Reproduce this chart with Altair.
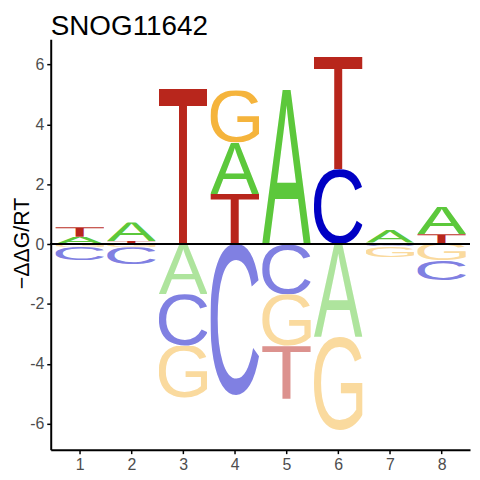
import base64
import glob
import struct

import altair as alt
import pandas as pd

# ---- data (signed -ddG/RT per position and base) ----
positions = [1, 2, 3, 4, 5, 6, 7, 8]
A = [0.24, 0.62, -1.68, 1.72, 5.16, -3.10, 0.44, 0.92]
C = [-0.44, -0.58, -1.73, -5.06, -1.68, 2.50, -0.08, -0.66]
G = [-0.10, -0.11, -1.74, 1.74, -1.73, -3.13, -0.35, -0.55]
T = [0.32, 0.10, 5.18, 1.67, -1.76, 3.76, 0.05, 0.33]
y_ticks = [-6, -4, -2, 0, 2, 4, 6]
title_text = ["SNOG11642"]

# ---- style ----
FONT = "Liberation Sans"
COLORS = {"A": "#5CC83B", "C": "#0000C4", "G": "#F5B43C", "T": "#B8261C"}
NEG_OPACITY = 0.5
HALF_W = 0.47

# glyph ink boxes (fraction of em); defaults ~ Arial, refined from the font file
BBOX = {
    "A": (-0.0015, 0.0, 0.6685, 0.716),
    "C": (0.0396, -0.0122, 0.6738, 0.728),
    "G": (0.0425, -0.0122, 0.7158, 0.728),
    "T": (0.0234, 0.0, 0.5908, 0.716),
}


def font_bboxes(path, chars):
    data = open(path, "rb").read()
    num = struct.unpack(">H", data[4:6])[0]
    tables = {}
    for i in range(num):
        tag, _, off, ln = struct.unpack(">4sIII", data[12 + 16 * i:28 + 16 * i])
        tables[tag.decode("latin1")] = off
    head = tables["head"]
    upem = struct.unpack(">H", data[head + 18:head + 20])[0]
    loc_fmt = struct.unpack(">h", data[head + 50:head + 52])[0]
    cmap = tables["cmap"]
    n = struct.unpack(">H", data[cmap + 2:cmap + 4])[0]
    sub = None
    for i in range(n):
        pid, eid, off = struct.unpack(">HHI", data[cmap + 4 + 8 * i:cmap + 12 + 8 * i])
        fmt = struct.unpack(">H", data[cmap + off:cmap + off + 2])[0]
        if fmt == 4 and pid in (0, 3):
            sub = cmap + off
            break
    seg2 = struct.unpack(">H", data[sub + 6:sub + 8])[0]
    segs = seg2 // 2
    ends = struct.unpack(">%dH" % segs, data[sub + 14:sub + 14 + seg2])
    starts = struct.unpack(">%dH" % segs, data[sub + 16 + seg2:sub + 16 + 2 * seg2])
    deltas = struct.unpack(">%dh" % segs, data[sub + 16 + 2 * seg2:sub + 16 + 3 * seg2])
    rpos = sub + 16 + 3 * seg2
    roffs = struct.unpack(">%dH" % segs, data[rpos:rpos + seg2])

    def gid(ch):
        code = ord(ch)
        for i in range(segs):
            if starts[i] <= code <= ends[i]:
                if roffs[i] == 0:
                    return (code + deltas[i]) & 0xFFFF
                addr = rpos + 2 * i + roffs[i] + 2 * (code - starts[i])
                g = struct.unpack(">H", data[addr:addr + 2])[0]
                return (g + deltas[i]) & 0xFFFF if g else 0
        return 0

    loca, glyf = tables["loca"], tables["glyf"]
    out = {}
    for ch in chars:
        g = gid(ch)
        if loc_fmt == 0:
            o = struct.unpack(">H", data[loca + 2 * g:loca + 2 * g + 2])[0] * 2
        else:
            o = struct.unpack(">I", data[loca + 4 * g:loca + 4 * g + 4])[0]
        x0, y0, x1, y1 = struct.unpack(">hhhh", data[glyf + o + 2:glyf + o + 10])
        out[ch] = (x0 / upem, y0 / upem, x1 / upem, y1 / upem)
    return out


try:
    files = glob.glob("/usr/share/fonts/**/LiberationSans-Regular.ttf", recursive=True)
    if files:
        BBOX.update(font_bboxes(files[0], "ACGT"))
except Exception:
    pass


def blend(hex_color, alpha):
    r, g, b = (int(hex_color[i:i + 2], 16) for i in (1, 3, 5))
    mix = lambda v: round(v * alpha + 255 * (1 - alpha))
    return "#%02X%02X%02X" % (mix(r), mix(g), mix(b))


def letter_url(letter, color):
    x0, y0, x1, y1 = (v * 1000 for v in BBOX[letter])
    svg = (
        '<svg xmlns="http://www.w3.org/2000/svg" viewBox="%.2f %.2f %.2f %.2f" '
        'preserveAspectRatio="none">'
        '<text x="0" y="0" font-family="%s" font-size="1000" fill="%s">%s</text></svg>'
        % (x0, -y1, x1 - x0, y1 - y0, FONT, color, letter)
    )
    return "data:image/svg+xml;base64," + base64.b64encode(svg.encode()).decode()


rows = []
series = {"A": A, "C": C, "G": G, "T": T}
for i, p in enumerate(positions):
    vals = [(b, series[b][i]) for b in "ACGT"]
    pos = sorted([v for v in vals if v[1] > 0], key=lambda v: v[1])
    neg = sorted([v for v in vals if v[1] < 0], key=lambda v: -v[1])
    top = 0.0
    for b, v in pos:
        rows.append(dict(pos=p, base=b, lo=top, hi=top + v,
                         url=letter_url(b, COLORS[b])))
        top += v
    bot = 0.0
    for b, v in neg:
        rows.append(dict(pos=p, base=b, lo=bot + v, hi=bot,
                         url=letter_url(b, blend(COLORS[b], NEG_OPACITY))))
        bot += v
df = pd.DataFrame(rows)

xscale = alt.Scale(domain=[0.44, 8.55], nice=False, zero=False)
yscale = alt.Scale(domain=[-6.87, 6.84], nice=False, zero=False)

letters = (
    alt.Chart(df)
    .transform_calculate(xl="datum.pos - %s" % HALF_W, xr="datum.pos + %s" % HALF_W)
    .mark_image(aspect=False)
    .encode(
        x=alt.X("xl:Q", scale=xscale,
                axis=alt.Axis(values=positions, title=None, format="d",
                              labelPadding=3)),
        x2="xr:Q",
        y=alt.Y("hi:Q", scale=yscale,
                axis=alt.Axis(values=y_ticks, title="\u2212\u0394\u0394G/RT",
                              labelExpr="'' + datum.value",
                              titleFontSize=21.5, titleFontWeight="normal",
                              titleColor="black", titleFont=FONT,
                              titleAngle=-90, titleAlign="center",
                              titleBaseline="alphabetic",
                              titleX=-22.5, titleY=205, labelPadding=3)),
        y2="lo:Q",
        url="url:N",
    )
)

zero = alt.Chart(df).mark_rule(color="black", strokeWidth=1).encode(y=alt.datum(0))

title = (
    alt.Chart(pd.DataFrame({"title": title_text}))
    .mark_text(align="left", baseline="alphabetic", fontSize=28,
               font=FONT, color="black")
    .encode(text="title:N", x=alt.value(0), y=alt.value(-4.2))
)

chart = (
    alt.layer(letters, zero, title)
    .properties(
        width=422,
        height=413,
        autosize=alt.AutoSizeParams(type="none"),
        padding={"left": 43, "top": 30, "right": 2, "bottom": 26},
    )
    .configure_view(stroke=None)
    .configure_axis(
        grid=False, domainColor="black", domainWidth=2, tickColor="black",
        tickWidth=1.5, tickSize=4, labelColor="#4D4D4D", labelFontSize=16,
        labelFont=FONT,
    )
)

chart.save("out.html", embed_options={"renderer": "svg", "actions": False})
